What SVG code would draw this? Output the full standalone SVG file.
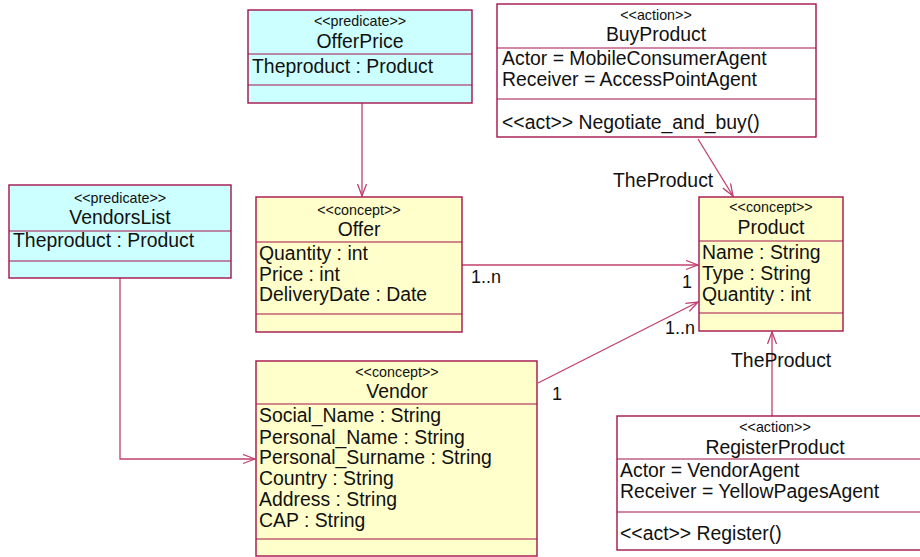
<svg xmlns="http://www.w3.org/2000/svg" width="920" height="557" viewBox="0 0 920 557">
<style>
.box{stroke:#A3134B;stroke-width:1.4}
.cyan{fill:#CCFFFF}
.yel{fill:#FFFFCC}
.wht{fill:#FFFFFF}
.div{stroke:#A3134B;stroke-width:1.2}
text{font-family:"Liberation Sans",Arial,sans-serif;fill:#111}
.st{font-size:14.3px;text-anchor:middle}
.nm{font-size:19.4px;text-anchor:middle}
.at{font-size:19.4px}
.lb{font-size:18px}
.con{stroke:#C0406E;stroke-width:1.3;fill:none}
</style>
<defs>
<marker id="arr" markerWidth="14" markerHeight="12" refX="13" refY="5" orient="auto" markerUnits="userSpaceOnUse">
<path d="M1,0.5 L13,5 L1,9.5" fill="none" stroke="#C0406E" stroke-width="1.3"/>
</marker>
</defs>
<rect width="920" height="557" fill="#FFFFFF"/>

<g id="connectors">
<line class="con" x1="362" y1="103" x2="362" y2="196" marker-end="url(#arr)"/>
<polyline class="con" points="120,278 120,459 255,459" marker-end="url(#arr)"/>
<line class="con" x1="462" y1="265" x2="698" y2="265" marker-end="url(#arr)"/>
<line class="con" x1="538" y1="383" x2="698" y2="302" marker-end="url(#arr)"/>
<line class="con" x1="698" y1="139" x2="733" y2="196" marker-end="url(#arr)"/>
<line class="con" x1="772" y1="416" x2="772" y2="332" marker-end="url(#arr)"/>
<text class="lb" x="471" y="283">1..n</text>
<text class="lb" x="682" y="288">1</text>
<text class="lb" x="665" y="334">1..n</text>
<text class="lb" x="552" y="400">1</text>
<text class="at" x="613" y="187">TheProduct</text>
<text class="at" x="731" y="367">TheProduct</text>
</g>

<g id="OfferPrice">
<rect class="box cyan" x="248" y="10" width="224" height="93"/>
<line class="div" x1="248" y1="54" x2="472" y2="54"/>
<line class="div" x1="248" y1="85" x2="472" y2="85"/>
<text class="st" x="360" y="26">&lt;&lt;predicate&gt;&gt;</text>
<text class="nm" x="360" y="48">OfferPrice</text>
<text class="at" x="252" y="73">Theproduct : Product</text>
</g>

<g id="BuyProduct">
<rect class="box wht" x="497" y="4" width="319" height="133"/>
<line class="div" x1="497" y1="48" x2="816" y2="48"/>
<line class="div" x1="497" y1="99" x2="816" y2="99"/>
<text class="st" x="656" y="20">&lt;&lt;action&gt;&gt;</text>
<text class="nm" x="656" y="41">BuyProduct</text>
<text class="at" x="502" y="65">Actor = MobileConsumerAgent</text>
<text class="at" x="502" y="86">Receiver = AccessPointAgent</text>
<text class="at" x="502" y="129">&lt;&lt;act&gt;&gt; Negotiate_and_buy()</text>
</g>

<g id="VendorsList">
<rect class="box cyan" x="9" y="185" width="222" height="93"/>
<line class="div" x1="9" y1="231" x2="231" y2="231"/>
<line class="div" x1="9" y1="261" x2="231" y2="261"/>
<text class="st" x="120" y="203">&lt;&lt;predicate&gt;&gt;</text>
<text class="nm" x="120" y="224">VendorsList</text>
<text class="at" x="13" y="247">Theproduct : Product</text>
</g>

<g id="Offer">
<rect class="box yel" x="256" y="197" width="206" height="135"/>
<line class="div" x1="256" y1="242" x2="462" y2="242"/>
<line class="div" x1="256" y1="314" x2="462" y2="314"/>
<text class="st" x="359" y="215">&lt;&lt;concept&gt;&gt;</text>
<text class="nm" x="359" y="236">Offer</text>
<text class="at" x="259" y="260">Quantity : int</text>
<text class="at" x="259" y="281">Price : int</text>
<text class="at" x="259" y="301">DeliveryDate : Date</text>
</g>

<g id="Product">
<rect class="box yel" x="699" y="197" width="144" height="134"/>
<line class="div" x1="699" y1="241" x2="843" y2="241"/>
<line class="div" x1="699" y1="313" x2="843" y2="313"/>
<text class="st" x="771" y="212">&lt;&lt;concept&gt;&gt;</text>
<text class="nm" x="771" y="234">Product</text>
<text class="at" x="702" y="259">Name : String</text>
<text class="at" x="702" y="280">Type : String</text>
<text class="at" x="702" y="301">Quantity : int</text>
</g>

<g id="Vendor">
<rect class="box yel" x="256" y="361" width="281" height="195"/>
<line class="div" x1="256" y1="404" x2="537" y2="404"/>
<line class="div" x1="256" y1="539" x2="537" y2="539"/>
<text class="st" x="397" y="377">&lt;&lt;concept&gt;&gt;</text>
<text class="nm" x="397" y="398">Vendor</text>
<text class="at" x="259" y="422">Social_Name : String</text>
<text class="at" x="259" y="444">Personal_Name : String</text>
<text class="at" x="259" y="464">Personal_Surname : String</text>
<text class="at" x="259" y="485">Country : String</text>
<text class="at" x="259" y="506">Address : String</text>
<text class="at" x="259" y="527">CAP : String</text>
</g>

<g id="RegisterProduct">
<rect class="box wht" x="617" y="416" width="316" height="134"/>
<line class="div" x1="617" y1="459" x2="933" y2="459"/>
<line class="div" x1="617" y1="512" x2="933" y2="512"/>
<text class="st" x="775" y="432">&lt;&lt;action&gt;&gt;</text>
<text class="nm" x="775" y="454">RegisterProduct</text>
<text class="at" x="620" y="477">Actor = VendorAgent</text>
<text class="at" x="620" y="498">Receiver = YellowPagesAgent</text>
<text class="at" x="620" y="540">&lt;&lt;act&gt;&gt; Register()</text>
</g>
</svg>
